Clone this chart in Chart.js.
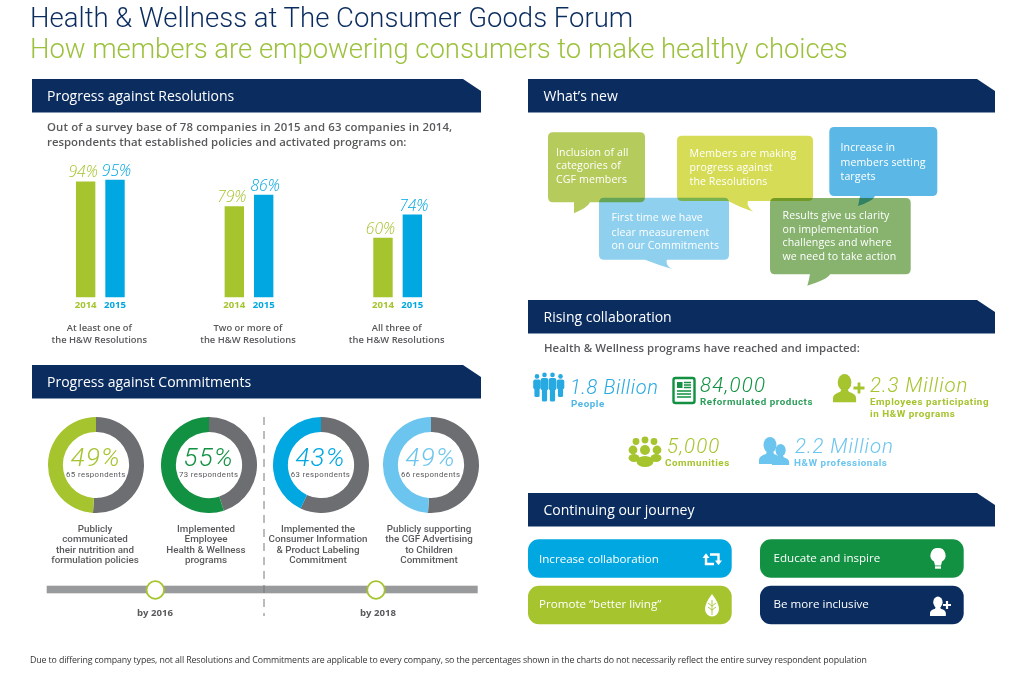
<!DOCTYPE html>
<html><head><meta charset="utf-8">
<script src="https://cdn.jsdelivr.net/npm/chart.js@4"></script>
<style>
html,body{margin:0;padding:0;background:#fff;width:1024px;height:673px;overflow:hidden;font-family:"Open Sans",sans-serif}
#page{position:relative;width:1024px;height:673px;overflow:hidden}
.t{position:absolute;white-space:pre;line-height:1;transform:translateY(-50%)}
.c{transform:translate(-50%,-50%);text-align:center}
.hd{position:absolute;background:#0a2c5f;clip-path:polygon(0 0,calc(100% - 18px) 0,100% 12px,100% 100%,0 100%)}
canvas{position:absolute}
svg{position:absolute;left:0;top:0}
</style></head><body><div id="page">
<svg id="art" width="1024" height="673" viewBox="0 0 1024 673"></svg>
<canvas id="bars" width="446" height="200" style="left:26px;top:150px;width:446px;height:200px"></canvas>
</div>
<script>
// ---- chart data ----
const barCategories = [["At least one of","the H&W Resolutions"],["Two or more of","the H&W Resolutions"],["All three of","the H&W Resolutions"]];
const years = ["2014","2015"];
const values2014 = [94,79,60];
const values2015 = [95,86,74];
const commitmentPct = [49,55,43,49];
const commitmentRespondents = [65,73,63,66];
const commitmentColors = ["#a5c42e","#129142","#00a7e1","#6cc5ee"];
const commitmentCenters = [95.8,208.7,320.5,430.7];
const captionCenters = [95,206,318,429];
const commitmentCaptions = [
 ["Publicly","communicated","their nutrition and","formulation policies"],
 ["Implemented","Employee","Health & Wellness","programs"],
 ["Implemented the","Consumer Information","& Product Labeling","Commitment"],
 ["Publicly supporting","the CGF Advertising","to Children","Commitment"]];
const remainderColor = "#6d6e71";

// ---- palette ----
const NAVY="#0a2c5f", GREEN="#a5c42e", BLUE="#00a7e1", GRAY="#58595b", DKGREEN="#129142", LTBLUE="#6cc5ee";
const page=document.getElementById('page'), art=document.getElementById('art');

function T(x,cy,s,css,center){const d=document.createElement('div');d.className='t'+(center?' c':'');
 d.style.cssText=`left:${x}px;top:${cy}px;`+css;d.textContent=s;page.appendChild(d);return d;}
function H(x,y,w,h,s){const d=document.createElement('div');d.className='hd';
 d.style.cssText=`left:${x}px;top:${y}px;width:${w}px;height:${h}px`;page.appendChild(d);
 T(x+15.5,y+17,s,'color:#fff;font-size:14px;font-weight:500');}

// titles
T(30,18,"Health & Wellness at The Consumer Goods Forum",`color:${NAVY};font-family:Roboto;font-size:27.5px;font-weight:300;letter-spacing:.01px`);
T(30,49,"How members are empowering consumers to make healthy choices",`color:#9cc13c;font-family:Roboto;font-size:27.5px;font-weight:300;letter-spacing:-.03px`);
// headers
H(31.5,79,449.5,33.5,"Progress against Resolutions");
H(31.5,365,449.5,33.5,"Progress against Commitments");
H(528,79,467,33.5,"What’s new");
H(528,300,467,33.5,"Rising collaboration");
H(528,493,467,33.5,"Continuing our journey");
// intro
const intro=`color:${GRAY};font-size:11.4px;font-weight:600`;
T(47,127,"Out of a survey base of 78 companies in 2015 and 63 companies in 2014,",intro+';letter-spacing:.14px');
T(47,142,"respondents that established policies and activated programs on:",intro);
T(544,348,"Health & Wellness programs have reached and impacted:",intro+';letter-spacing:.03px');
// captions
commitmentCaptions.forEach((ls,i)=>ls.forEach((s,j)=>T(captionCenters[i],529+j*10.4,s,`color:${GRAY};font-family:Roboto;font-size:9.8px;font-weight:500`,true)));
// timeline labels
T(155,612.5,"by 2016",`color:${GRAY};font-size:9.6px;font-weight:700`,true);
T(378,612.5,"by 2018",`color:${GRAY};font-size:9.6px;font-weight:700`,true);
// footnote
T(30,660,"Due to differing company types, not all Resolutions and Commitments are applicable to every company, so the percentages shown in the charts do not necessarily reflect the entire survey respondent population","color:#333;font-size:8.8px;letter-spacing:-.115px");

// speech bubbles
function bubble(x,y,w,h,tail,fill,blend){const r=5;
 const [a,b,tx,ty]=tail;
 return `<path style="mix-blend-mode:${blend?'multiply':'normal'}" fill="${fill}" d="M${x+r} ${y}H${x+w-r}Q${x+w} ${y} ${x+w} ${y+r}V${y+h-r}Q${x+w} ${y+h} ${x+w-r} ${y+h}H${b}Q${b-2} ${y+h+5} ${tx} ${ty}Q${(a+tx)/2} ${ty-4} ${a} ${y+h}H${x+r}Q${x} ${y+h} ${x} ${y+h-r}V${y+r}Q${x} ${y} ${x+r} ${y}Z"/>`;}
let svg='';
svg+=bubble(548,132.3,97,70,[574,590,574,213.3],"#b5cb5c");
svg+=bubble(677,135.7,136,65.3,[728,748,753.3,211.7],"#d6dc55");
svg+=bubble(829.3,127,108,69,[860,875,858,206],"#5bb8e6");
svg+=bubble(599,197.7,130,62,[645,667,672,269],"#8fd0ee",true);
svg+=bubble(770,198,140.7,76.3,[810,830,807.3,285.7],"#88b36f",true);

// timeline + divider
svg+=`<rect x="46.7" y="585.7" width="431" height="7.6" fill="#999a9c"/>`;
svg+=`<line x1="264" y1="417" x2="264" y2="616" stroke="#77787b" stroke-width="1" stroke-dasharray="8 6"/>`;
[155.3,376].forEach(cx=>svg+=`<circle cx="${cx}" cy="590" r="8.8" fill="#fff" stroke="${GREEN}" stroke-width="1.8"/>`);

// pills
const pill=(x,y,c)=>`<rect x="${x}" y="${y}" width="203.7" height="38.5" rx="11" fill="${c}"/>`;
svg+=pill(528,539.3,BLUE)+pill(760,539.3,DKGREEN)+pill(528,585.7,GREEN)+pill(760,585.7,NAVY);

// icons
const person=(x,y,s,c)=>`<g transform="translate(${x} ${y}) scale(${s})" fill="${c}"><ellipse cx="11" cy="8" rx="6.5" ry="8"/><path d="M0 27V23Q0 19 7 17L8 14H14L15 17Q22 19 22 23V27Z"/></g>`;
const figure=(x,y,h,c)=>`<g fill="${c}"><circle cx="${x}" cy="${y+2.4}" r="2.3"/><rect x="${x-3.8}" y="${y+5.5}" width="7.6" height="${h*.42}" rx="2"/><rect x="${x-2.6}" y="${y+10}" width="5.2" height="${h-10}" rx="1.6"/></g>`;
[[537,374,23],[560.5,374,23],[544.5,372.5,29],[552.5,372.5,29]].forEach(f=>svg+=figure(f[0],f[1],f[2],"#27a9e1"));
// reformulated doc
svg+=`<rect x="673.5" y="378" width="21" height="25" rx="2" fill="#fff" stroke="${DKGREEN}" stroke-width="2.4"/>
<rect x="677" y="382" width="5.5" height="6" fill="${DKGREEN}"/>
<path d="M684 382.5h7M684 385h7M684 387.5h7M677 391h14M677 394h14M677 397h14" stroke="${DKGREEN}" stroke-width="1.4"/>`;
// add-person green
svg+=person(833,374,1.05,"#a5c42e")+`<path d="M853.5 388h11M859 382.5v11" stroke="#a5c42e" stroke-width="2.8" fill="none"/>`;
// communities cluster
[[636,441.5,3.4],[645,440,3.4],[654,441.5,3.4]].forEach(c=>svg+=`<circle cx="${c[0]}" cy="${c[1]}" r="${c[2]}" fill="#a5c42e"/>`);
[[633,450,4.4],[657,450,4.4],[645,450,5]].forEach(c=>svg+=`<circle cx="${c[0]}" cy="${c[1]}" r="${c[2]}" fill="#a5c42e"/>`);
svg+=`<ellipse cx="634" cy="458" rx="5.5" ry="4" fill="#a5c42e"/><ellipse cx="656" cy="458" rx="5.5" ry="4" fill="#a5c42e"/><ellipse cx="645" cy="461.5" rx="8.5" ry="5.5" fill="#a5c42e"/>`;
// two professionals
svg+=person(772,444,.78,LTBLUE)+person(759,437,1,LTBLUE);
// retweet arrows
svg+=`<g stroke="#fff" stroke-width="2.4" fill="none"><path d="M706 557V564H714"/><path d="M710 554.5H718.5V561"/></g><path d="M702.5 558L706 553.3L709.5 558ZM715 560.5L718.5 565.2L722 560.5Z" fill="#fff"/>`;
// bulb
svg+=`<path d="M938 548a7.2 7.2 0 0 1 4 13.4L941 565.5H935L934 561.4A7.2 7.2 0 0 1 938 548Z" fill="#fff"/><rect x="935" y="566.3" width="6" height="2.4" fill="#fff"/>`;
// leaf
svg+=`<path d="M712 594Q719 603 719 609A7 7.5 0 0 1 705 609Q705 603 712 594Z" fill="#fff"/><path d="M712 600V615M712 606L708 603M712 606L716 603M712 610L708 607M712 610L716 607" stroke="${GREEN}" stroke-width=".9"/>`;
// add-person white
svg+=person(930,596.5,.72,"#fff")+`<path d="M943 605h8M947 601v8" stroke="#fff" stroke-width="2.2"/>`;
art.innerHTML=svg;

// bubble text
const bt="color:#fff;font-size:10.6px;letter-spacing:.1px";
[[556,151.7,"Inclusion of all"],[556,165,"categories of"],[556,179,"CGF members"],
 [689.5,153,"Members are making"],[689.5,167,"progress against"],[689.5,181,"the Resolutions"],
 [840.5,147,"Increase in"],[840.5,161.5,"members setting"],[840.5,175.5,"targets"],
 [611.5,217,"First time we have"],[611.5,231.5,"clear measurement"],[611.5,245,"on our Commitments"],
 [782.5,214.6,"Results give us clarity"],[782.5,228.6,"on implementation"],[782.5,242,"challenges and where"],[782.5,256,"we need to take action"]]
 .forEach(b=>T(b[0],b[1],b[2],bt));

// stats
const big=(c,s,ls)=>`color:${c};font-family:Roboto;font-size:${s}px;font-weight:300;font-style:italic;letter-spacing:${ls}px`;
const sm=c=>`color:${c};font-family:Roboto;font-size:9.8px;font-weight:700;letter-spacing:.55px`;
T(570,386.8,"1.8 Billion",big("#27a9e1",20,.6));T(571,403.5,"People",sm("#4fb6e6"));
T(700,385.3,"84,000",big(DKGREEN,20.5,1.2));T(700,402.3,"Reformulated products",sm("#2f9e5b"));
T(870,384.8,"2.3 Million",big(GREEN,20.5,.85));T(870,402.3,"Employees participating",sm(GREEN));T(870,413.8,"in H&W programs",sm(GREEN));
T(667,446,"5,000",big(GREEN,20.5,1.1));T(665,463,"Communities",sm(GREEN));
T(795,446,"2.2 Million",big(LTBLUE,20.5,.9));T(794,463,"H&W professionals",sm(LTBLUE));

// pill text
const pt="color:#fff;font-size:11.6px";
T(539,558.5,"Increase collaboration",pt);T(773.5,557.5,"Educate and inspire",pt);
T(539,604,"Promote “better living”",pt);T(773.5,604,"Be more inclusive",pt);

// ---- bar chart ----
const barCanvas=document.getElementById('bars');
const barChart=new Chart(barCanvas,{type:'bar',
 data:{labels:barCategories,datasets:[
  {label:years[0],data:values2014,backgroundColor:GREEN},
  {label:years[1],data:values2015,backgroundColor:BLUE}]},
 options:{responsive:false,animation:false,devicePixelRatio:1,
  categoryPercentage:.395,barPercentage:.66,
  layout:{padding:0},
  plugins:{legend:{display:false},tooltip:{enabled:false}},
  scales:{
   y:{display:false,min:24,max:113},
   x:{grid:{display:false},border:{display:false},ticks:{display:false},
      afterFit(s){s.height=52.7;}}
  }}});
// value, year and category labels placed from the chart's own elements and scale
(function(){const ox=26,oy=150,bottom=barChart.chartArea.bottom+oy;
 barChart.data.datasets.forEach((ds,di)=>{barChart.getDatasetMeta(di).data.forEach((el,i)=>{
  T(ox+el.x+(di?1.5:-2.5),oy+el.y-9,ds.data[i]+'%',`color:${ds.backgroundColor};font-size:15.6px;font-weight:300;font-style:italic`,true);
  T(ox+el.x,bottom+8,ds.label,`color:${ds.backgroundColor};font-size:9.6px;font-weight:700`,true);
 });});
 barCategories.forEach((ls,i)=>{const x=ox+barChart.scales.x.getPixelForTick(i);
  ls.forEach((s,j)=>T(x-1,327.7+j*12.4,s,`color:${GRAY};font-size:9.4px;font-weight:600`,true));});
})();

// ---- doughnuts ----
commitmentPct.forEach((p,i)=>{
 const c=document.createElement('canvas');c.width=96;c.height=96;
 c.style.cssText=`left:${commitmentCenters[i]-48}px;top:416.7px;width:96px;height:96px`;page.appendChild(c);
 const ch=new Chart(c,{type:'doughnut',
  data:{labels:['Other','Share'],datasets:[{data:[100-p,p],backgroundColor:[remainderColor,commitmentColors[i]],borderWidth:0}]},
  options:{responsive:false,animation:false,devicePixelRatio:1,cutout:'69%',layout:{padding:0},
   plugins:{legend:{display:false},tooltip:{enabled:false}}}});
 const arc=ch.getDatasetMeta(0).data[0],cx=commitmentCenters[i]-48+arc.x,cy=416.7+arc.y;
 T(cx,cy-8.1,p+'%',`color:${commitmentColors[i]};font-family:Roboto;font-size:26px;font-weight:300;font-style:italic;letter-spacing:1.2px`,true);
 T(cx,cy+10.6,commitmentRespondents[i]+' respondents',`color:${GRAY};font-family:Roboto;font-size:7.8px;font-weight:400;letter-spacing:.4px`,true);
});
</script></body></html>
